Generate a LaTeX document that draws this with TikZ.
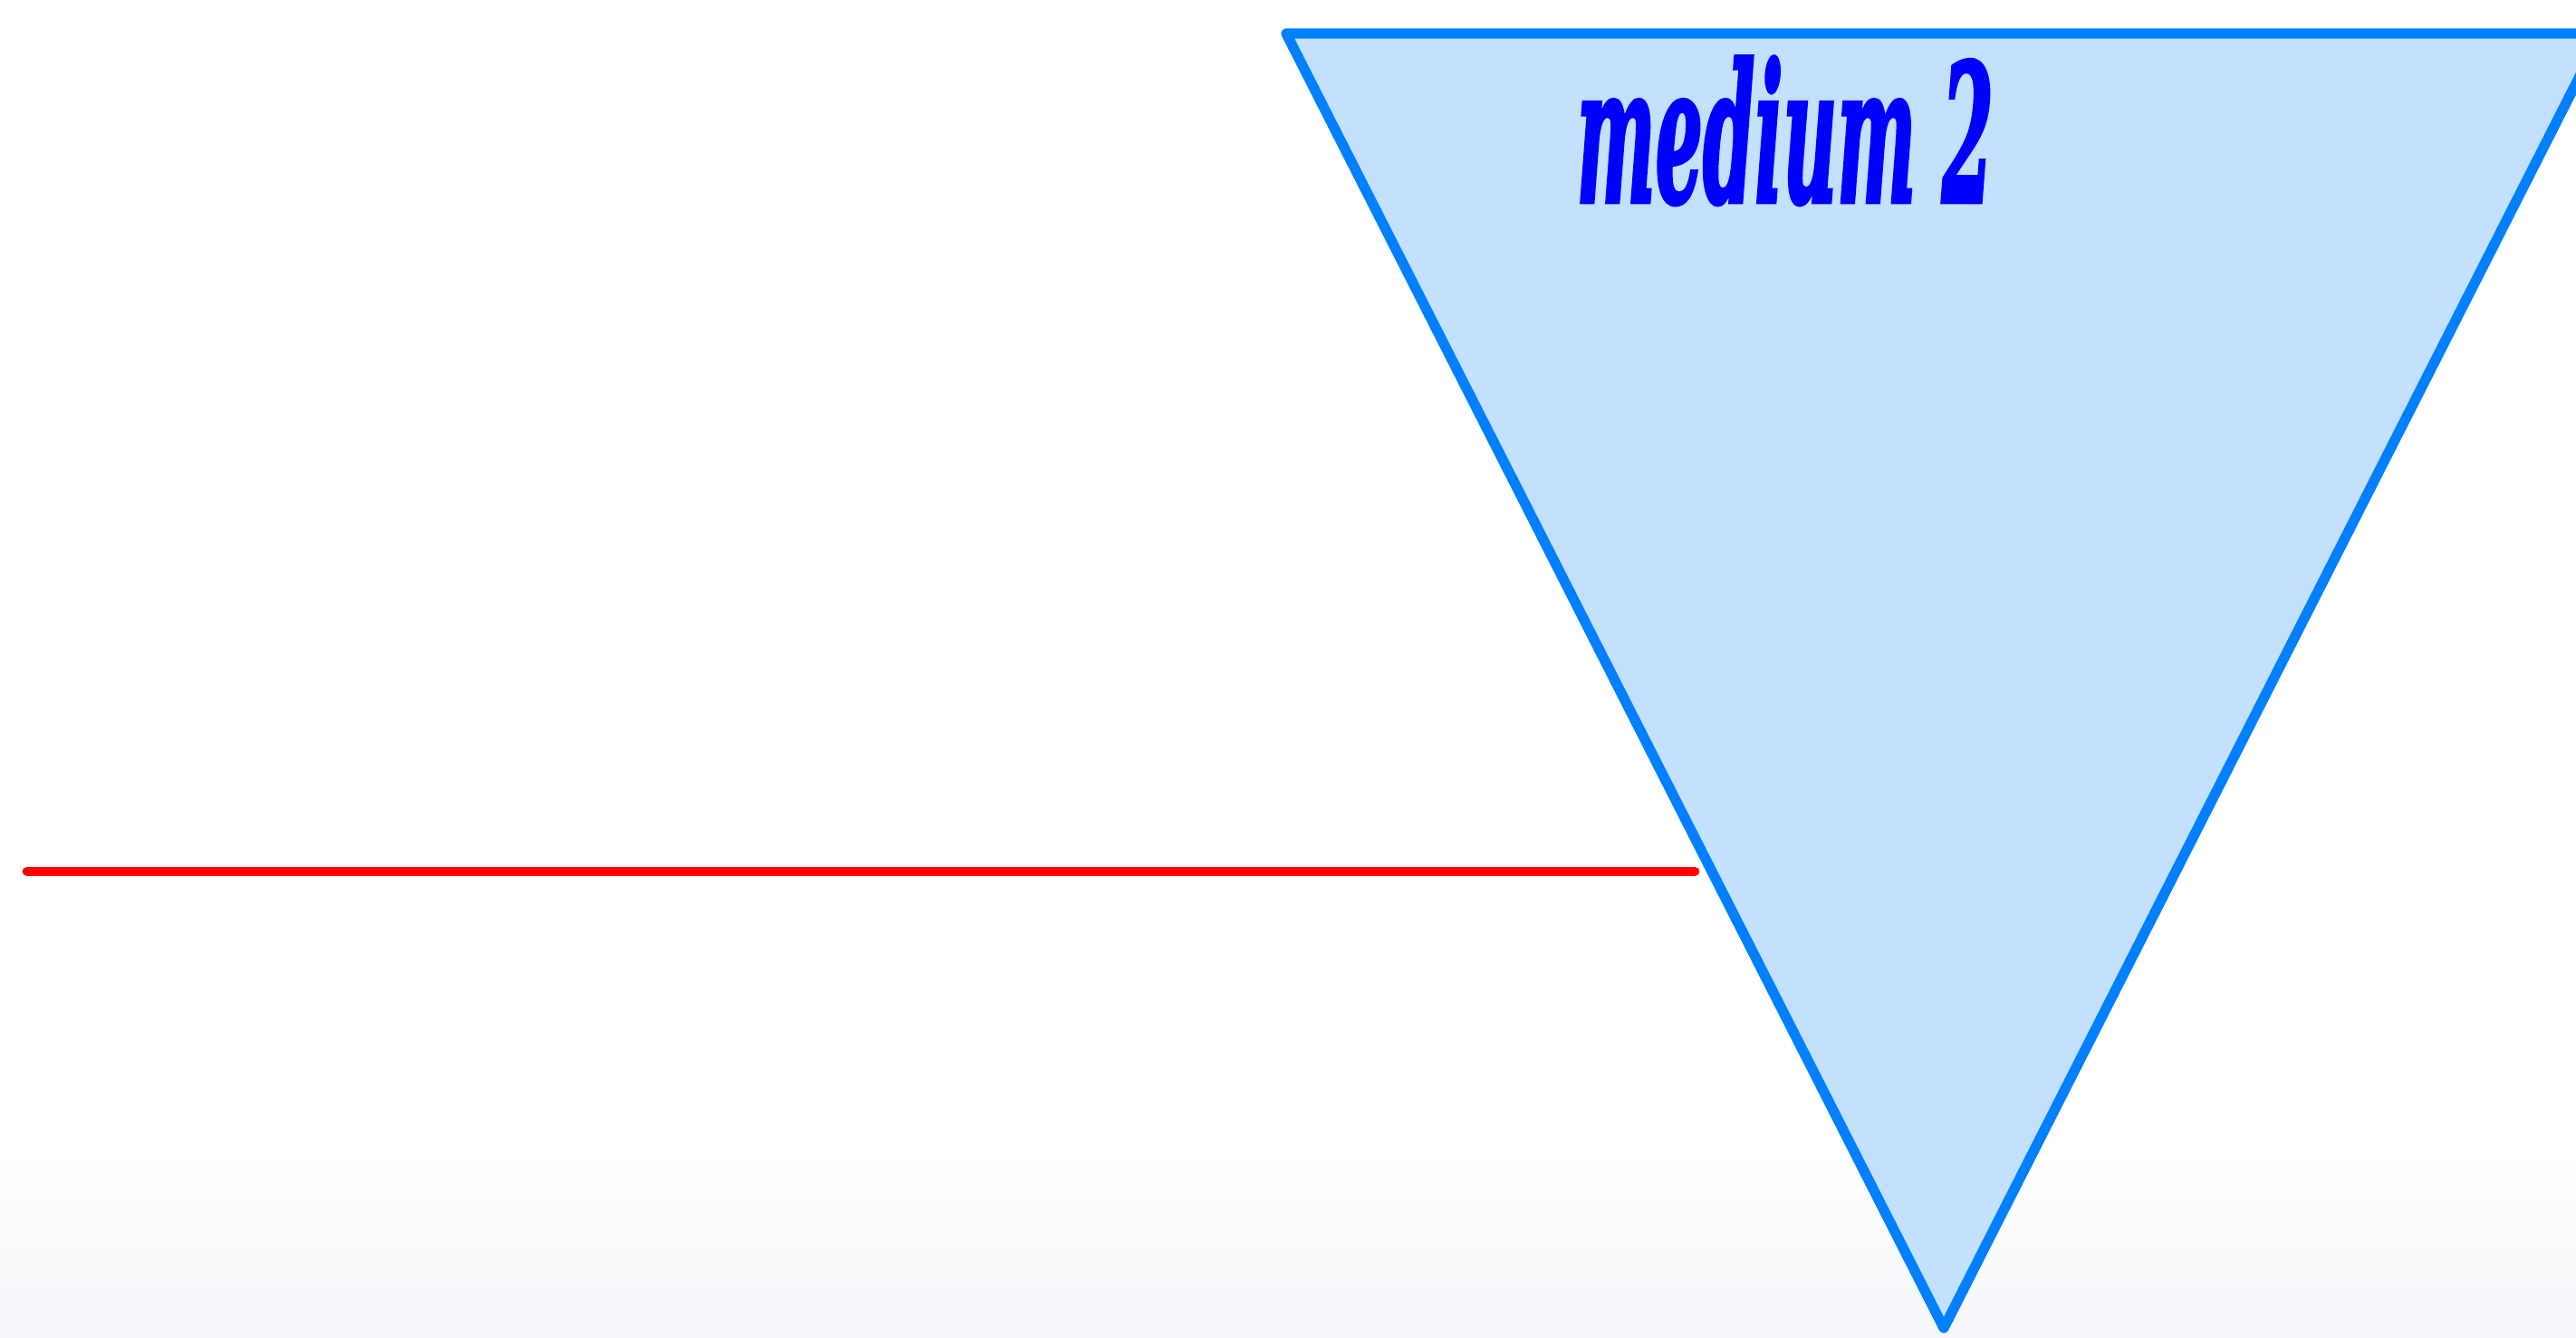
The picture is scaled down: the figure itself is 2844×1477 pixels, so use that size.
\documentclass[tikz,border=0pt]{standalone}
\usepackage{fontspec}
\newfontfamily\labelfont[BoldItalicFeatures={FakeBold=2.5}]{DejaVu Serif}
\definecolor{edgeblue}{RGB}{0,127,255}
\definecolor{fillblue}{RGB}{195,224,252}
\definecolor{bgbottom}{RGB}{245,246,250}
\definecolor{textblue}{RGB}{0,0,255}
\tikzset{
  medium/.style={draw=edgeblue, fill=fillblue, line width=3.2pt, line join=round},
  ray/.style={draw=red, line width=3.1pt, line cap=round},
  label/.style={text=textblue, inner sep=0pt, anchor=north west}
}
\begin{document}
\begin{tikzpicture}[x=0.01cm, y=-0.01cm]
\useasboundingbox (0,0) rectangle (2844,1477);
\clip (0,0) rectangle (2844,1477);
\fill[white] (0,0) rectangle (2844,1272);
\shade[top color=white, bottom color=bgbottom] (0,1270) rectangle (2844,1477);
\coordinate (tl) at (1420,37);
\coordinate (tr) at (2872,37);
\coordinate (bt) at (2146,1466);
\path[medium] (tl) -- (tr) -- (bt) -- cycle;
\coordinate (rayA) at (30,962);
\coordinate (rayB) at (1871,962);
\draw[ray] (rayA) -- (rayB);
\node[label] (lbl) at (1740,62) {\resizebox{4.6cm}{1.6cm}{\labelfont\bfseries\itshape medium 2}};
\end{tikzpicture}
\end{document}
